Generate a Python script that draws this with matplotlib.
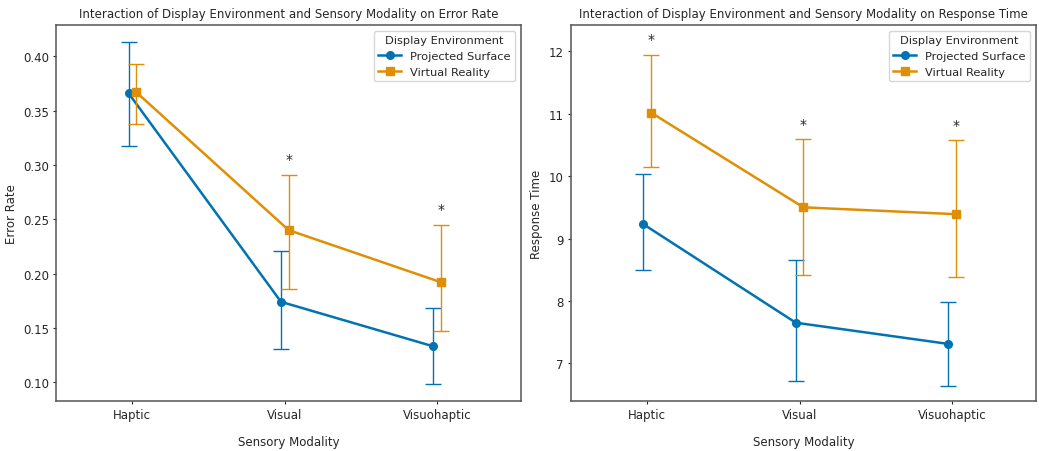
import numpy as np
from matplotlib import pyplot as plt

# categories and groups
modalities = ['Haptic', 'Visual', 'Visuohaptic']
environments = ['Projected Surface', 'Virtual Reality']

# error rate: means and CI bounds
err_ps = [0.366, 0.174, 0.133]
err_ps_lo = [0.317, 0.131, 0.098]
err_ps_hi = [0.413, 0.221, 0.168]
err_vr = [0.367, 0.240, 0.192]
err_vr_lo = [0.338, 0.186, 0.147]
err_vr_hi = [0.393, 0.291, 0.245]
err_sig = [False, True, True]

# response time: means and CI bounds
rt_ps = [9.23, 7.65, 7.31]
rt_ps_lo = [8.49, 6.71, 6.63]
rt_ps_hi = [10.03, 8.65, 7.98]
rt_vr = [11.02, 9.50, 9.39]
rt_vr_lo = [10.14, 8.41, 8.39]
rt_vr_hi = [11.95, 10.60, 10.58]
rt_sig = [True, True, True]

colors = ['#0173b2', '#de8f05']
markers = ['o', 's']
dodge = 0.025

plt.rcParams['text.color'] = '#262626'
plt.rcParams['axes.labelcolor'] = '#262626'
plt.rcParams['xtick.color'] = '#262626'
plt.rcParams['ytick.color'] = '#262626'

fig, axes = plt.subplots(1, 2, figsize=(10.39, 4.52), dpi=100)

def draw(ax, series, sig, title, ylabel, star_off):
    x = np.arange(len(modalities))
    for i, (m, lo, hi) in enumerate(series):
        xs = x + (i - 0.5) * 2 * dodge
        m = np.array(m); lo = np.array(lo); hi = np.array(hi)
        ax.errorbar(xs, m, yerr=[m - lo, hi - m], fmt='none', ecolor=colors[i],
                    elinewidth=1, capsize=6, capthick=1)
        ax.plot(xs, m, color=colors[i], marker=markers[i], markersize=5.5,
                linewidth=1.8, label=environments[i])
    vr_hi = series[1][2]
    for j, s in enumerate(sig):
        if s:
            ax.text(x[j] + dodge, vr_hi[j] + star_off, '*', ha='center', va='bottom', fontsize=10)
    ax.set_xticks(x)
    ax.set_xticklabels(modalities, fontsize=8.5)
    ax.set_xlim(-0.5, 2.55)
    ax.tick_params(axis='both', labelsize=8.5, length=2.5, pad=2.5)
    for sp in ax.spines.values():
        sp.set_color('#555555')
        sp.set_linewidth(1.1)
    ax.set_title(title, fontsize=8.5)
    ax.set_xlabel('Sensory Modality', fontsize=8.5, labelpad=10)
    ax.set_ylabel(ylabel, fontsize=8.5)
    ax.legend(title='Display Environment', loc='upper right', fontsize=8.2, title_fontsize=8.2)

draw(axes[0], [(err_ps, err_ps_lo, err_ps_hi), (err_vr, err_vr_lo, err_vr_hi)], err_sig,
     'Interaction of Display Environment and Sensory Modality on Error Rate', 'Error Rate', 0.008)
axes[0].set_ylim(0.0825, 0.4285)

draw(axes[1], [(rt_ps, rt_ps_lo, rt_ps_hi), (rt_vr, rt_vr_lo, rt_vr_hi)], rt_sig,
     'Interaction of Display Environment and Sensory Modality on Response Time', 'Response Time', 0.13)
axes[1].set_ylim(6.39, 12.42)

plt.subplots_adjust(left=0.054, right=0.997, top=0.942, bottom=0.11, wspace=0.107)
plt.savefig('out.png')
